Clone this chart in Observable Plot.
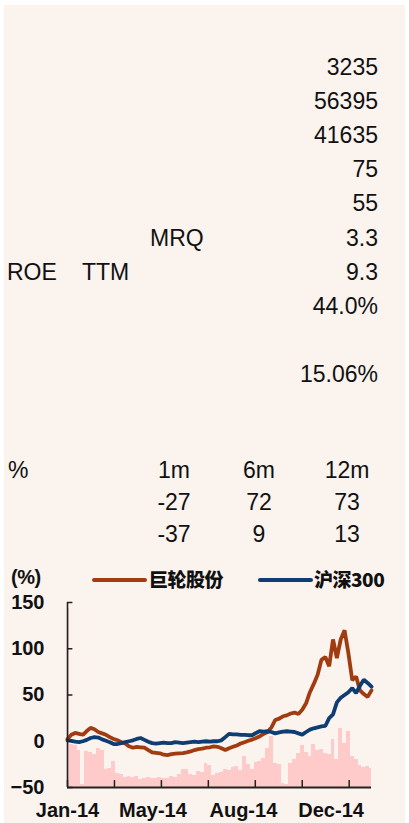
<!DOCTYPE html>
<html>
<head>
<meta charset="utf-8">
<script src="https://cdn.jsdelivr.net/npm/d3@7"></script>
<script src="https://cdn.jsdelivr.net/npm/@observablehq/plot@0.6"></script>
<style>
  html, body { margin: 0; padding: 0; background: #ffffff; }
  #page { position: relative; width: 409px; height: 823px; overflow: hidden; font-family: "Liberation Sans", Arial, sans-serif; color: #111; }
  #cream { position: absolute; left: 4px; top: 5px; width: 401px; height: 818px; background: #FAF3EE; }
  .t { position: absolute; font-size: 23px; line-height: 1; white-space: nowrap; transform: translateY(-50%); }
  .r { text-align: right; }
  .c { transform: translate(-50%, -50%); }
  .lg { position: absolute; font-family: "Noto Sans CJK SC", "Liberation Sans", sans-serif; font-weight: 900; font-size: 19px; line-height: 1; white-space: nowrap; transform: translateY(-50%); color: #111; letter-spacing: -0.5px; }
  .sw { position: absolute; height: 4px; border-radius: 2px; }
  #chart { position: absolute; left: 0; top: 590px; }
</style>
</head>
<body>
<div id="page">
  <div id="cream"></div>
  <div id="chart"></div>
</div>
<script>
// ---------- data ----------
const infoLabels = ["", "", "", "", "", "MRQ", "ROE    TTM", "", "", ""];
const infoValues = ["3235", "56395", "41635", "75", "55", "3.3", "9.3", "44.0%", "", "15.06%"];

const perfHeader = ["%", "1m", "6m", "12m"];
const perfStock = [-27, 72, 73];
const perfIndex = [-37, 9, 13];

const legendNames = ["巨轮股份", "沪深300"];
const axisUnit = "(%)";

const yTicks = [-50, 0, 50, 100, 150];
const xLabels = ["Jan-14", "May-14", "Aug-14", "Dec-14"];
const xLabelPos = [0, 22.2, 45.7, 68.5];
const xTickMarks = [0, 12.2, 24.4, 36.6, 48.8, 61, 73.2];

// relative return of 巨轮股份 (%)
const stockRet = [2.5, 7, 9, 8, 7, 11, 14.5, 13, 10, 8.5,
  7, 4.5, 2.5, 1, -1, -2.5, -5.5, -7, -6, -6.5,
  -7, -9.5, -12, -12.5, -13, -14.5, -15, -14, -13.5, -13,
  -12.8, -12, -11, -9.5, -8.5, -8, -7, -6.5, -5.5, -6,
  -7.5, -9.5, -7.5, -6, -4.5, -2.5, -1, 0.5, 1.8, 3.5,
  5.5, 8, 10, 15, 23, 24.5, 27, 28, 30, 31,
  29.5, 34, 41, 53, 62, 72, 88, 91, 81, 110,
  90, 110, 120, 95, 66, 70, 55, 51, 48, 55];
// relative return of 沪深300 (%)
const hs300Ret = [1, 0.5, -0.5, -1, 0, 1.5, 3.5, 4.5, 4, 2,
  0.5, -1, -3, -3, -2, -1, 0, 1, 2.5, 3.5,
  1.5, -0.5, -2, -2.5, -2, -1.5, -2, -2, -1, -1.5,
  -2, -1.5, -1, -0.5, -1, -0.5, 0, -0.5, 0, 0,
  1, 4.5, 8, 7.5, 7.5, 7, 7, 6.5, 6.5, 9,
  11, 10.5, 10.8, 10, 8.5, 9.5, 10.5, 10.8, 10.5, 10,
  8.5, 7.2, 10, 12.6, 14, 15, 16, 16.5, 25, 29,
  42, 47, 50, 53, 57.5, 52, 60, 66.5, 63, 59];
// turnover (drawn on hidden secondary scale, in axis units above the -50 floor)
const turnover = [193, 46, 45, 40, 3, 39, 38, 36, 42, 40,
  20, 21, 28, 15, 14, 11, 12, 11, 12, 9,
  10, 11, 10, 10, 11, 10, 10, 12, 11, 14,
  20, 19, 14, 13, 17, 16, 26, 24, 13, 15,
  16, 19, 18, 22, 23, 18, 34, 25, 19, 27,
  28, 31, 42, 55, 26, 25, 4, 3, 26, 30,
  37, 45, 38, 34, 47, 40, 41, 37, 36, 52,
  30, 64, 48, 61, 34, 30, 24, 22, 23, 21];

// ---------- colours ----------
const brown = "#A03C10";
const navy = "#0D3D73";
const pink = "#FFCACA";

// ---------- top tables (HTML) ----------
const page = document.getElementById("page");
function addText(txt, cls, style) {
  const d = document.createElement("div");
  d.className = cls;
  d.textContent = txt;
  Object.assign(d.style, style);
  page.appendChild(d);
  return d;
}
infoValues.forEach((v, i) => {
  const y = 67 + 34.1 * i;
  if (v) addText(v, "t r", {right: (409 - 378) + "px", top: y + "px"});
  const lab = infoLabels[i];
  if (lab === "MRQ") addText(lab, "t", {left: "150px", top: y + "px"});
  else if (lab) {
    const parts = lab.split(/\s+/);
    addText(parts[0], "t", {left: "7px", top: y + "px"});
    addText(parts[1], "t", {left: "82px", top: y + "px"});
  }
});
const perfCols = [174, 259, 347];
const perfRows = [470, 502, 533.5];
addText(perfHeader[0], "t", {left: "8px", top: perfRows[0] + "px"});
perfHeader.slice(1).forEach((h, j) => addText(h, "t c", {left: perfCols[j] + "px", top: perfRows[0] + "px"}));
perfStock.forEach((v, j) => addText(String(v), "t c", {left: perfCols[j] + "px", top: perfRows[1] + "px"}));
perfIndex.forEach((v, j) => addText(String(v), "t c", {left: perfCols[j] + "px", top: perfRows[2] + "px"}));

// legend
addText(axisUnit, "lg", {left: "11px", top: "577px", fontFamily: "'Liberation Sans', Arial, sans-serif", fontWeight: "bold", fontSize: "20px"});
const sw1 = document.createElement("div"); sw1.className = "sw";
Object.assign(sw1.style, {left: "92px", top: "578px", width: "55px", background: brown}); page.appendChild(sw1);
addText(legendNames[0], "lg", {left: "149px", top: "578px"});
const sw2 = document.createElement("div"); sw2.className = "sw";
Object.assign(sw2.style, {left: "258px", top: "578px", width: "55px", background: navy}); page.appendChild(sw2);
addText(legendNames[1], "lg", {left: "314px", top: "578px"});

// ---------- chart ----------
const data = stockRet.map((s, i) => ({i, stock: s, index: hs300Ret[i], vol: turnover[i]}));
const N = data.length;

const chart = Plot.plot({
  width: 409,
  height: 233,
  marginLeft: 67,
  marginRight: 38,
  marginTop: 12,
  marginBottom: 36,
  style: {background: "transparent", fontFamily: "'Liberation Sans', Arial, sans-serif", color: "#111"},
  x: {domain: [0, N - 1]},
  y: {domain: [-50, 150]},
  marks: [
    Plot.rect(data, {x1: d => d.i - 0.5, x2: d => d.i + 0.5, y1: () => -50, y2: d => -50 + d.vol, fill: pink, clip: true, shapeRendering: "crispEdges"}),
    Plot.line(data, {x: "i", y: "stock", stroke: brown, strokeWidth: 3.8, strokeLinejoin: "miter"}),
    Plot.line(data, {x: "i", y: "index", stroke: navy, strokeWidth: 3.8, strokeLinejoin: "miter"}),
    Plot.ruleX([0], {stroke: "#222", strokeWidth: 1.6}),
    Plot.ruleY([-50], {stroke: "#222", strokeWidth: 2}),
    Plot.ruleY(yTicks, {x1: () => 0, x2: () => 1.4, stroke: "#222", strokeWidth: 1.5}),
    Plot.ruleX(xTickMarks, {y1: () => -50, y2: () => -42.5, stroke: "#222", strokeWidth: 1.5}),
    Plot.axisY({ticks: yTicks, tickSize: 0, tickPadding: 23, fontSize: 20, fontWeight: "bold", label: null}),
    Plot.axisX({ticks: xLabelPos, tickFormat: d => xLabels[xLabelPos.indexOf(d)], tickSize: 0, tickPadding: 15, fontSize: 20, fontWeight: "bold", label: null})
  ]
});
document.getElementById("chart").appendChild(chart);
</script>
</body>
</html>
